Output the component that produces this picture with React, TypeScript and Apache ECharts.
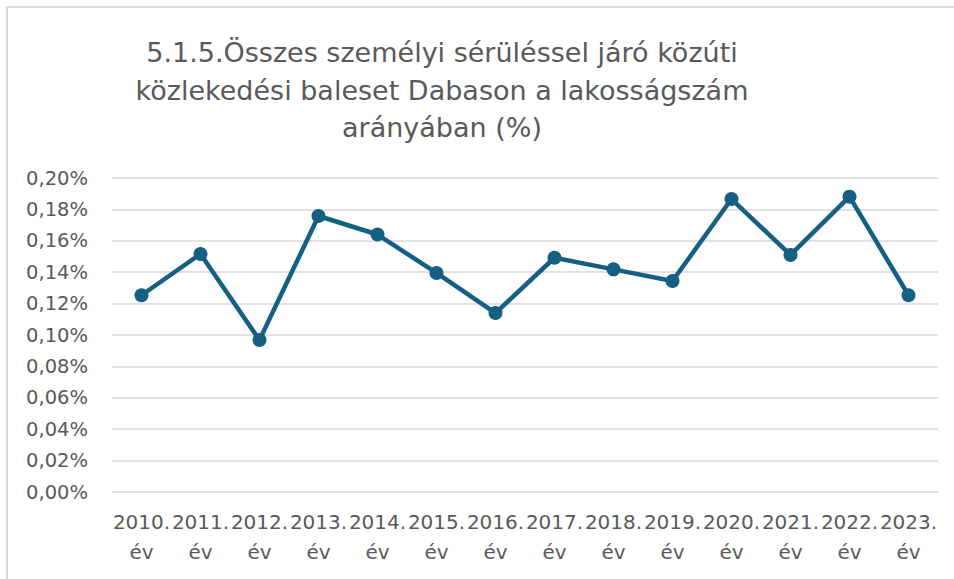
import React, { useEffect, useRef } from "react";
import * as echarts from "echarts";

const categories = ["2010.", "2011.", "2012.", "2013.", "2014.", "2015.", "2016.", "2017.", "2018.", "2019.", "2020.", "2021.", "2022.", "2023."];
const values = [0.1253, 0.1516, 0.0968, 0.1758, 0.1640, 0.1395, 0.1140, 0.1492, 0.1418, 0.1344, 0.1866, 0.1510, 0.1881, 0.1253];
const titleLines = ["5.1.5.Összes személyi sérüléssel járó közúti", "közlekedési baleset Dabason a lakosságszám", "arányában (%)"];
const yMax = 0.2;
const yInterval = 0.02;

export default function App() {
  const ref = useRef<HTMLDivElement>(null);
  useEffect(() => {
    if (!ref.current) return;
    const chart = echarts.init(ref.current, null, { renderer: "svg" });
    const font = "'DejaVu Sans', 'Open Sans', sans-serif";
    chart.setOption({
      animation: false,
      backgroundColor: "#ffffff",
      title: {
        text: titleLines.join("\n"),
        left: 437,
        top: 29,
        textAlign: "center",
        textStyle: { color: "#595959", fontSize: 27, fontWeight: "normal", fontFamily: font, lineHeight: 37.5 },
      },
      graphic: [
        { type: "rect", shape: { x: 7, y: 7, width: 980, height: 620 }, style: { fill: "none", stroke: "#d9d9d9", lineWidth: 2 }, silent: true },
      ],
      grid: { left: 112, top: 178, width: 826, height: 314, containLabel: false },
      xAxis: {
        type: "category",
        data: categories,
        boundaryGap: true,
        axisLine: { show: false },
        axisTick: { show: false },
        axisLabel: {
          interval: 0,
          margin: 15,
          color: "#595959",
          fontSize: 20,
          fontFamily: font,
          lineHeight: 30,
          formatter: (v: string) => v + "\név",
        },
      },
      yAxis: {
        type: "value",
        min: 0,
        max: yMax,
        interval: yInterval,
        axisLine: { show: false },
        axisTick: { show: false },
        splitLine: { lineStyle: { color: "#d9d9d9", width: 1.5 } },
        axisLabel: {
          margin: 24,
          color: "#595959",
          fontSize: 19.5,
          fontFamily: font,
          formatter: (v: number) => v.toFixed(2).replace(".", ",") + "%",
        },
      },
      series: [
        {
          type: "line",
          data: values,
          symbol: "circle",
          symbolSize: 14,
          lineStyle: { color: "#156082", width: 4.5 },
          itemStyle: { color: "#156082" },
        },
      ],
    });
    return () => chart.dispose();
  }, []);
  return <div ref={ref} style={{ position: "fixed", left: 0, top: 0, width: 954, height: 579 }} />;
}
